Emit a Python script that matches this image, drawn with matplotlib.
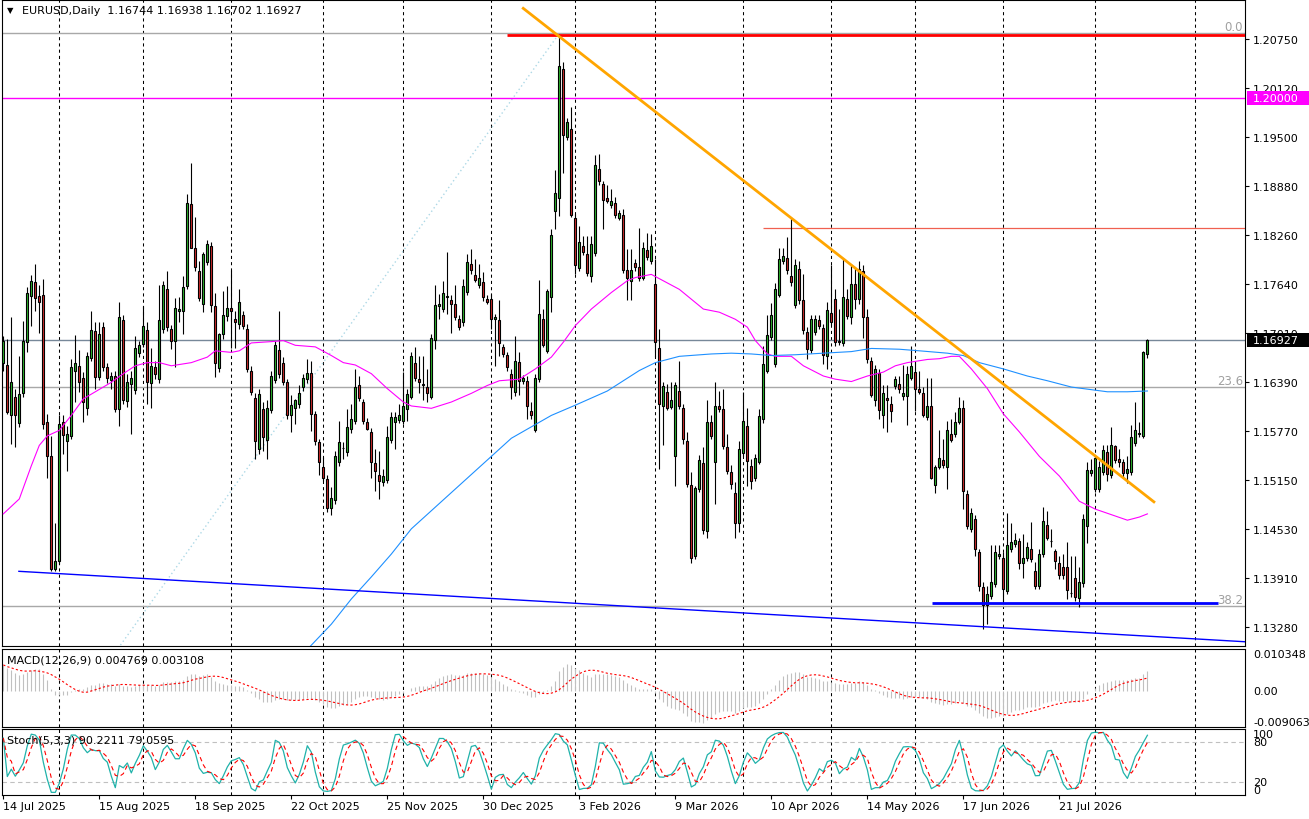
"""EURUSD daily chart in the MT4 style: candles, two moving averages, trend objects, MACD and Stochastic panes."""
import numpy as np
import pandas as pd
import matplotlib
matplotlib.use('Agg')
import matplotlib.pyplot as plt
from matplotlib.patches import Rectangle
from matplotlib.transforms import IdentityTransform

plt.rcParams['font.family'] = 'DejaVu Sans'
plt.rcParams['font.size'] = 8

W, H, DPI = 1309, 820, 100

# ---------------------------------------------------------------- data
FIRST_DAY = '2025-07-14'
HOLIDAYS = ['2025-12-25', '2026-01-01']
HEADER = 'EURUSD,Daily  1.16744 1.16938 1.16702 1.16927'

OPEN = [
    1.1664, 1.1661, 1.1597, 1.1620, 1.1587, 1.1626, 1.1690, 1.1749, 1.1766, 1.1749,
    1.1750, 1.1588, 1.1545, 1.1402, 1.1412, 1.1589, 1.1565, 1.1571, 1.1653, 1.1660,
    1.1644, 1.1607, 1.1670, 1.1704, 1.1646, 1.1709, 1.1658, 1.1642, 1.1647, 1.1605,
    1.1718, 1.1615, 1.1637, 1.1629, 1.1676, 1.1688, 1.1705, 1.1638, 1.1658, 1.1643,
    1.1707, 1.1758, 1.1707, 1.1692, 1.1730, 1.1729, 1.1761, 1.1865, 1.1810, 1.1780,
    1.1739, 1.1792, 1.1812, 1.1736, 1.1657, 1.1700, 1.1723, 1.1733, 1.1720, 1.1713,
    1.1724, 1.1707, 1.1653, 1.1619, 1.1554, 1.1605, 1.1566, 1.1604, 1.1642, 1.1680,
    1.1663, 1.1639, 1.1598, 1.1606, 1.1611, 1.1633, 1.1643, 1.1651, 1.1599, 1.1563,
    1.1532, 1.1516, 1.1479, 1.1489, 1.1538, 1.1555, 1.1550, 1.1580, 1.1590, 1.1635,
    1.1614, 1.1589, 1.1576, 1.1536, 1.1521, 1.1512, 1.1515, 1.1566, 1.1589, 1.1591,
    1.1590, 1.1605, 1.1621, 1.1663, 1.1643, 1.1636, 1.1633, 1.1621, 1.1693, 1.1736,
    1.1732, 1.1747, 1.1744, 1.1739, 1.1720, 1.1715, 1.1754, 1.1789, 1.1775, 1.1763,
    1.1766, 1.1745, 1.1745, 1.1720, 1.1718, 1.1684, 1.1674, 1.1650, 1.1627, 1.1665,
    1.1641, 1.1641, 1.1603, 1.1579, 1.1643, 1.1719, 1.1679, 1.1747, 1.1857, 1.1873,
    1.2037, 1.1951, 1.1961, 1.1848, 1.1784, 1.1812, 1.1802, 1.1774, 1.1803, 1.1910,
    1.1891, 1.1873, 1.1864, 1.1867, 1.1848, 1.1851, 1.1782, 1.1767, 1.1790, 1.1786,
    1.1772, 1.1807, 1.1793, 1.1764, 1.1682, 1.1609, 1.1627, 1.1608, 1.1545, 1.1628,
    1.1606, 1.1564, 1.1509, 1.1418, 1.1504, 1.1536, 1.1450, 1.1588, 1.1538, 1.1609,
    1.1605, 1.1557, 1.1525, 1.1499, 1.1460, 1.1549, 1.1584, 1.1533, 1.1518, 1.1538,
    1.1592, 1.1654, 1.1696, 1.1662, 1.1750, 1.1793, 1.1797, 1.1774, 1.1737, 1.1783,
    1.1744, 1.1703, 1.1680, 1.1703, 1.1718, 1.1708, 1.1673, 1.1727, 1.1745, 1.1692,
    1.1689, 1.1745, 1.1722, 1.1764, 1.1745, 1.1780, 1.1722, 1.1666, 1.1617, 1.1651,
    1.1598, 1.1619, 1.1611, 1.1634, 1.1637, 1.1622, 1.1622, 1.1645, 1.1652, 1.1631,
    1.1625, 1.1595, 1.1609, 1.1509, 1.1532, 1.1540, 1.1532, 1.1573, 1.1573, 1.1589,
    1.1606, 1.1497, 1.1453, 1.1466, 1.1423, 1.1379, 1.1356, 1.1368, 1.1383, 1.1418,
    1.1416, 1.1374, 1.1427, 1.1434, 1.1438, 1.1410, 1.1416, 1.1428, 1.1400, 1.1381,
    1.1421, 1.1458, 1.1438, 1.1425, 1.1410, 1.1405, 1.1405, 1.1372, 1.1390, 1.1365,
    1.1384, 1.1457, 1.1524, 1.1503, 1.1503, 1.1525, 1.1550, 1.1521, 1.1558, 1.1542,
    1.1538, 1.1524, 1.1525, 1.1562, 1.1573, 1.1571, 1.16744,
]
HIGH = [
    1.1698, 1.1694, 1.1722, 1.1631, 1.1673, 1.1717, 1.1760, 1.1775, 1.1789, 1.1762,
    1.1770, 1.1599, 1.1571, 1.1461, 1.1597, 1.1597, 1.1584, 1.1669, 1.1699, 1.1680,
    1.1652, 1.1678, 1.1730, 1.1715, 1.1715, 1.1715, 1.1664, 1.1652, 1.1653, 1.1741,
    1.1725, 1.1650, 1.1654, 1.1698, 1.1691, 1.1736, 1.1715, 1.1682, 1.1666, 1.1763,
    1.1768, 1.1780, 1.1712, 1.1746, 1.1747, 1.1774, 1.1878, 1.1918, 1.1849, 1.1793,
    1.1804, 1.1820, 1.1817, 1.1753, 1.1702, 1.1755, 1.1761, 1.1781, 1.1729, 1.1758,
    1.1730, 1.1713, 1.1660, 1.1626, 1.1631, 1.1614, 1.1616, 1.1653, 1.1692, 1.1729,
    1.1671, 1.1643, 1.1623, 1.1618, 1.1635, 1.1649, 1.1668, 1.1666, 1.1603, 1.1567,
    1.1544, 1.1521, 1.1506, 1.1552, 1.1590, 1.1563, 1.1605, 1.1611, 1.1656, 1.1647,
    1.1618, 1.1594, 1.1581, 1.1554, 1.1552, 1.1529, 1.1584, 1.1601, 1.1601, 1.1611,
    1.1652, 1.1631, 1.1678, 1.1684, 1.1673, 1.1673, 1.1656, 1.1700, 1.1763, 1.1751,
    1.1768, 1.1805, 1.1750, 1.1762, 1.1724, 1.1770, 1.1802, 1.1808, 1.1796, 1.1789,
    1.1779, 1.1750, 1.1751, 1.1726, 1.1743, 1.1688, 1.1678, 1.1656, 1.1698, 1.1677,
    1.1648, 1.1647, 1.1614, 1.1650, 1.1769, 1.1732, 1.1758, 1.1834, 1.1908, 1.2081,
    1.2045, 1.1975, 1.1988, 1.1853, 1.1838, 1.1825, 1.1825, 1.1825, 1.1927, 1.1929,
    1.1895, 1.1889, 1.1884, 1.1874, 1.1858, 1.1859, 1.1808, 1.1808, 1.1796, 1.1835,
    1.1817, 1.1829, 1.1827, 1.1796, 1.1707, 1.1639, 1.1637, 1.1639, 1.1639, 1.1666,
    1.1611, 1.1576, 1.1525, 1.1508, 1.1547, 1.1557, 1.1616, 1.1597, 1.1639, 1.1628,
    1.1631, 1.1573, 1.1534, 1.1512, 1.1564, 1.1627, 1.1607, 1.1542, 1.1548, 1.1605,
    1.1685, 1.1724, 1.1740, 1.1765, 1.1810, 1.1809, 1.1823, 1.1849, 1.1796, 1.1793,
    1.1777, 1.1709, 1.1724, 1.1724, 1.1724, 1.1713, 1.1741, 1.1788, 1.1758, 1.1732,
    1.1797, 1.1758, 1.1789, 1.1785, 1.1793, 1.1788, 1.1732, 1.1671, 1.1661, 1.1656,
    1.1635, 1.1635, 1.1622, 1.1647, 1.1647, 1.1661, 1.1660, 1.1685, 1.1666, 1.1654,
    1.1633, 1.1644, 1.1644, 1.1534, 1.1579, 1.1567, 1.1590, 1.1592, 1.1601, 1.1621,
    1.1617, 1.1502, 1.1480, 1.1470, 1.1427, 1.1385, 1.1381, 1.1432, 1.1432, 1.1432,
    1.1423, 1.1473, 1.1461, 1.1448, 1.1442, 1.1447, 1.1436, 1.1462, 1.1411, 1.1427,
    1.1481, 1.1476, 1.1453, 1.1427, 1.1418, 1.1421, 1.1436, 1.1418, 1.1419, 1.1405,
    1.1472, 1.1538, 1.1542, 1.1546, 1.1539, 1.1560, 1.1559, 1.1582, 1.1560, 1.1554,
    1.1542, 1.1546, 1.1585, 1.1614, 1.1589, 1.1679, 1.16938,
]
LOW = [
    1.1654, 1.1599, 1.1561, 1.1557, 1.1582, 1.1620, 1.1677, 1.1711, 1.1730, 1.1702,
    1.1580, 1.1518, 1.1400, 1.1400, 1.1408, 1.1548, 1.1527, 1.1567, 1.1614, 1.1627,
    1.1589, 1.1598, 1.1666, 1.1631, 1.1642, 1.1653, 1.1638, 1.1631, 1.1601, 1.1583,
    1.1611, 1.1608, 1.1573, 1.1624, 1.1671, 1.1684, 1.1611, 1.1607, 1.1643, 1.1638,
    1.1702, 1.1704, 1.1681, 1.1658, 1.1715, 1.1700, 1.1757, 1.1859, 1.1780, 1.1742,
    1.1728, 1.1788, 1.1728, 1.1646, 1.1652, 1.1694, 1.1717, 1.1683, 1.1683, 1.1707,
    1.1707, 1.1652, 1.1623, 1.1542, 1.1548, 1.1552, 1.1542, 1.1600, 1.1638, 1.1645,
    1.1636, 1.1592, 1.1576, 1.1586, 1.1607, 1.1628, 1.1638, 1.1577, 1.1560, 1.1521,
    1.1514, 1.1474, 1.1470, 1.1485, 1.1533, 1.1542, 1.1546, 1.1575, 1.1586, 1.1615,
    1.1586, 1.1578, 1.1518, 1.1501, 1.1491, 1.1507, 1.1511, 1.1562, 1.1554, 1.1587,
    1.1586, 1.1590, 1.1618, 1.1641, 1.1626, 1.1616, 1.1614, 1.1618, 1.1681, 1.1719,
    1.1728, 1.1726, 1.1702, 1.1718, 1.1705, 1.1711, 1.1750, 1.1777, 1.1766, 1.1759,
    1.1742, 1.1738, 1.1707, 1.1660, 1.1673, 1.1671, 1.1653, 1.1618, 1.1622, 1.1623,
    1.1637, 1.1592, 1.1592, 1.1576, 1.1639, 1.1684, 1.1676, 1.1728, 1.1834, 1.1850,
    1.1905, 1.1947, 1.1849, 1.1777, 1.1780, 1.1801, 1.1774, 1.1766, 1.1799, 1.1890,
    1.1833, 1.1866, 1.1860, 1.1848, 1.1845, 1.1778, 1.1743, 1.1743, 1.1780, 1.1768,
    1.1769, 1.1794, 1.1789, 1.1671, 1.1529, 1.1559, 1.1604, 1.1605, 1.1507, 1.1605,
    1.1561, 1.1506, 1.1410, 1.1415, 1.1500, 1.1446, 1.1442, 1.1567, 1.1485, 1.1601,
    1.1554, 1.1523, 1.1504, 1.1442, 1.1449, 1.1545, 1.1508, 1.1504, 1.1514, 1.1535,
    1.1587, 1.1651, 1.1693, 1.1659, 1.1747, 1.1789, 1.1777, 1.1761, 1.1733, 1.1738,
    1.1700, 1.1669, 1.1676, 1.1699, 1.1707, 1.1662, 1.1656, 1.1712, 1.1685, 1.1686,
    1.1685, 1.1719, 1.1713, 1.1732, 1.1738, 1.1695, 1.1664, 1.1620, 1.1609, 1.1592,
    1.1581, 1.1576, 1.1588, 1.1631, 1.1626, 1.1616, 1.1585, 1.1642, 1.1602, 1.1624,
    1.1595, 1.1591, 1.1516, 1.1499, 1.1529, 1.1530, 1.1504, 1.1563, 1.1570, 1.1586,
    1.1478, 1.1453, 1.1449, 1.1419, 1.1374, 1.1326, 1.1332, 1.1364, 1.1379, 1.1415,
    1.1360, 1.1370, 1.1424, 1.1430, 1.1402, 1.1391, 1.1412, 1.1411, 1.1377, 1.1377,
    1.1417, 1.1439, 1.1430, 1.1402, 1.1389, 1.1389, 1.1364, 1.1367, 1.1361, 1.1354,
    1.1379, 1.1435, 1.1520, 1.1500, 1.1500, 1.1521, 1.1514, 1.1517, 1.1536, 1.1531,
    1.1519, 1.1511, 1.1521, 1.1558, 1.1569, 1.1568, 1.16702,
]
CLOSE = [
    1.1692, 1.1601, 1.1640, 1.1597, 1.1624, 1.1691, 1.1753, 1.1767, 1.1746, 1.1741,
    1.1586, 1.1545, 1.1402, 1.1412, 1.1586, 1.1572, 1.1573, 1.1659, 1.1663, 1.1640,
    1.1614, 1.1672, 1.1705, 1.1646, 1.1700, 1.1659, 1.1644, 1.1647, 1.1605, 1.1722,
    1.1617, 1.1640, 1.1644, 1.1682, 1.1686, 1.1711, 1.1640, 1.1660, 1.1649, 1.1718,
    1.1762, 1.1709, 1.1692, 1.1733, 1.1732, 1.1760, 1.1866, 1.1810, 1.1785, 1.1746,
    1.1802, 1.1814, 1.1737, 1.1664, 1.1700, 1.1725, 1.1733, 1.1729, 1.1716, 1.1741,
    1.1711, 1.1656, 1.1627, 1.1564, 1.1624, 1.1569, 1.1607, 1.1647, 1.1686, 1.1650,
    1.1640, 1.1598, 1.1610, 1.1617, 1.1626, 1.1645, 1.1651, 1.1599, 1.1564, 1.1538,
    1.1518, 1.1480, 1.1492, 1.1546, 1.1563, 1.1556, 1.1582, 1.1592, 1.1633, 1.1619,
    1.1590, 1.1580, 1.1538, 1.1527, 1.1514, 1.1520, 1.1569, 1.1595, 1.1595, 1.1597,
    1.1609, 1.1624, 1.1672, 1.1644, 1.1640, 1.1637, 1.1626, 1.1695, 1.1737, 1.1739,
    1.1753, 1.1749, 1.1739, 1.1722, 1.1709, 1.1761, 1.1792, 1.1781, 1.1769, 1.1771,
    1.1747, 1.1741, 1.1719, 1.1722, 1.1689, 1.1675, 1.1658, 1.1633, 1.1666, 1.1641,
    1.1644, 1.1609, 1.1597, 1.1645, 1.1726, 1.1687, 1.1755, 1.1826, 1.1879, 1.2040,
    1.1953, 1.1970, 1.1851, 1.1788, 1.1817, 1.1804, 1.1778, 1.1814, 1.1915, 1.1894,
    1.1871, 1.1869, 1.1869, 1.1852, 1.1854, 1.1782, 1.1772, 1.1781, 1.1785, 1.1771,
    1.1809, 1.1798, 1.1812, 1.1690, 1.1611, 1.1634, 1.1607, 1.1617, 1.1635, 1.1609,
    1.1567, 1.1510, 1.1416, 1.1505, 1.1540, 1.1451, 1.1588, 1.1571, 1.1609, 1.1605,
    1.1558, 1.1527, 1.1510, 1.1461, 1.1554, 1.1590, 1.1539, 1.1514, 1.1543, 1.1596,
    1.1662, 1.1699, 1.1724, 1.1758, 1.1796, 1.1799, 1.1781, 1.1766, 1.1788, 1.1743,
    1.1705, 1.1681, 1.1720, 1.1719, 1.1711, 1.1674, 1.1731, 1.1716, 1.1690, 1.1690,
    1.1747, 1.1723, 1.1764, 1.1745, 1.1783, 1.1722, 1.1668, 1.1623, 1.1656, 1.1604,
    1.1626, 1.1616, 1.1602, 1.1643, 1.1631, 1.1626, 1.1650, 1.1660, 1.1631, 1.1627,
    1.1598, 1.1609, 1.1518, 1.1531, 1.1543, 1.1534, 1.1578, 1.1566, 1.1588, 1.1607,
    1.1501, 1.1456, 1.1473, 1.1427, 1.1380, 1.1356, 1.1370, 1.1385, 1.1423, 1.1421,
    1.1377, 1.1432, 1.1436, 1.1439, 1.1410, 1.1416, 1.1430, 1.1415, 1.1380, 1.1421,
    1.1463, 1.1442, 1.1437, 1.1412, 1.1395, 1.1394, 1.1376, 1.1371, 1.1366, 1.1385,
    1.1466, 1.1528, 1.1528, 1.1543, 1.1531, 1.1553, 1.1522, 1.1559, 1.1540, 1.1538,
    1.1524, 1.1529, 1.1570, 1.1579, 1.1575, 1.1677, 1.16927,
]

# moving averages (bar index, price)
MA_FAST_IDX = [0, 4, 7, 9, 11, 14, 17, 20, 23, 27, 30, 33, 36, 39, 42, 47, 51, 53, 57, 59,
               62, 68, 70, 73, 78, 82, 85, 88, 92, 96, 100, 102, 107, 112, 117, 121, 124, 129, 133, 137,
               140, 143, 147, 152, 156, 158, 162, 169, 175, 179, 183, 186, 188, 191, 193, 197, 200, 205, 208, 212,
               216, 220, 223, 226, 231, 234, 237, 239, 242, 246, 250, 254, 259, 264, 269, 273, 277, 281, 284, 286]
MA_FAST = [1.1472, 1.1491, 1.1533, 1.1559, 1.1571, 1.1578, 1.1597, 1.1618, 1.1627, 1.1639,
           1.1650, 1.1660, 1.1664, 1.1664, 1.1660, 1.1664, 1.1671, 1.1679, 1.1677, 1.1679,
           1.1689, 1.1691, 1.1692, 1.1686, 1.1684, 1.1673, 1.1664, 1.1661, 1.1650, 1.1631,
           1.1614, 1.1609, 1.1606, 1.1614, 1.1625, 1.1635, 1.1641, 1.1643, 1.1656, 1.1671,
           1.1690, 1.1711, 1.1732, 1.1753, 1.1768, 1.1772, 1.1776, 1.1757, 1.1732, 1.1728,
           1.1719, 1.1709, 1.1692, 1.1675, 1.1672, 1.1672, 1.1660, 1.1647, 1.1643, 1.1640,
           1.1647, 1.1652, 1.1660, 1.1664, 1.1668, 1.1669, 1.1672, 1.1672, 1.1656, 1.1631,
           1.1599, 1.1576, 1.1545, 1.1520, 1.1488, 1.1478, 1.1471, 1.1464, 1.1468, 1.1472]
MA_SLOW_IDX = [76, 82, 87, 92, 97, 102, 107, 127, 137, 143, 151, 159, 163, 169, 177, 182, 187, 192,
               198, 205, 212, 217, 224, 229, 236, 240, 244, 250, 256, 261, 267, 276, 281, 286]
MA_SLOW = [1.1300, 1.1332, 1.1364, 1.1392, 1.1421, 1.1453, 1.1476, 1.1568, 1.1597, 1.1610,
           1.1628, 1.1654, 1.1664, 1.1672, 1.1675, 1.1676, 1.1675, 1.1673, 1.1674, 1.1676,
           1.1678, 1.1682, 1.1681, 1.1679, 1.1676, 1.1673, 1.1664, 1.1656, 1.1647, 1.1641,
           1.1633, 1.1627, 1.1627, 1.1628]

MAIN_TICKS = [1.2075, 1.2012, 1.1950, 1.1888, 1.1826, 1.1764, 1.1701, 1.1639,
              1.1577, 1.1515, 1.1453, 1.1391, 1.1328]
MAIN_LIMITS = (1.13043, 1.21243)

# chart objects
FIB_LOW, FIB_HIGH = 1.0178, 1.2082
FIB_LOW_IDX, FIB_HIGH_IDX = -130, 139
FIB_LEVELS = [0.0, 23.6, 38.2]
DOWN_TREND = [(129.7, 1.21148), (287.9, 1.14862)]
LOW_TREND = [(3.9, 1.13991), (310.4, 1.13097)]
SUPPORT = (232.1, 303.6, 1.13592)
TOP_LINE = (125.9, 1.20793)
MID_LINE = (189.9, 1.18345)
ROUND_LEVEL = 1.2000

MACD_SEED = (1.1645, 1.1580)      # fast / slow EMA just before the first bar
MACD_LIMITS = (-0.009063, 0.010348)
MACD_TEXT = 'MACD(12,26,9) 0.004769 0.003108'
STOCH_TEXT = 'Stoch(5,3,3) 90.2211 79.0595'

UP_COL, DOWN_COL = '#2DB82D', '#D22B2B'

# ---------------------------------------------------------------- derived
o, h, l, c = (np.array(v) for v in (OPEN, HIGH, LOW, CLOSE))
n = len(c)
x = np.arange(n)
dates = pd.bdate_range(FIRST_DAY, periods=n, freq='C', holidays=HOLIDAYS)
future = pd.date_range(dates[-1] + pd.Timedelta(days=1), periods=40, freq='D')
all_dates = dates.append(future)
month_lines = [i for i in range(1, len(all_dates)) if all_dates[i].month != all_dates[i - 1].month]
lbl_idx = list(range(0, n, 24))
lbl_txt = [f'{dates[i].day} {dates[i]:%b %Y}' for i in lbl_idx]

fast, slow = MACD_SEED
macd = []
for v in c:
    fast += (v - fast) * 2 / 13
    slow += (v - slow) * 2 / 27
    macd.append(fast - slow)
macd = pd.Series(macd)
macd_sig = macd.rolling(9, min_periods=1).mean()

hs, ls, cs = pd.Series(h), pd.Series(l), pd.Series(c)
ll = ls.rolling(5, min_periods=1).min()
hh = hs.rolling(5, min_periods=1).max()
st_main = 100 * (cs - ll).rolling(3, min_periods=1).sum() / (hh - ll).rolling(3, min_periods=1).sum()
st_sig = st_main.rolling(3, min_periods=1).mean()

# ---------------------------------------------------------------- layout
fig = plt.figure(figsize=(W / DPI, H / DPI), dpi=DPI)
fig.patch.set_facecolor('white')


def box(top, bottom, left=2, right=1245):
    return [left / W, 1 - bottom / H, (right - left) / W, (bottom - top) / H]


ax = fig.add_axes(box(1, 647))
axm = fig.add_axes(box(650, 728))
axs = fig.add_axes(box(730, 796))
XLIM = (-0.325, 310.4)
for a in (ax, axm, axs):
    a.set_xlim(*XLIM)
    for sp in a.spines.values():
        sp.set_linewidth(0.8)
        sp.set_color('black')
    a.tick_params(axis='x', bottom=False, labelbottom=False)
    a.tick_params(axis='y', left=False, labelleft=False)
    for m in month_lines:
        a.axvline(m, color='black', lw=0.75, ls=(0, (3, 3)), zorder=1)

# ---------------------------------------------------------------- main pane
ax.set_ylim(*MAIN_LIMITS)
ax.yaxis.set_ticks_position('right')
ax.set_yticks(MAIN_TICKS, labels=[f'{v:.5f}' for v in MAIN_TICKS])
ax.tick_params(axis='y', right=True, labelright=True, direction='out', length=3, width=0.8, pad=2.8, labelsize=8)

fib_range = FIB_HIGH - FIB_LOW
for lev in FIB_LEVELS:
    p = FIB_HIGH - fib_range * lev / 100
    ax.axhline(p, color='#A8A8A8', lw=1, zorder=2)
    ax.text(0.9984, p, f'{lev:.1f}', transform=ax.get_yaxis_transform(), ha='right', va='bottom',
            color='#A0A0A0', fontsize=8.5, zorder=6)
ax.plot([FIB_LOW_IDX, FIB_HIGH_IDX], [FIB_LOW, FIB_HIGH], color='#ADD8E6', lw=1, ls=(0, (1, 2)), zorder=2)

ax.axhline(ROUND_LEVEL, color='#FF00FF', lw=1, zorder=2)
ax.axhline(c[-1], color='#778899', lw=1, zorder=2)
ax.hlines(TOP_LINE[1], TOP_LINE[0], XLIM[1], color='#FF0000', lw=2, zorder=6)
ax.hlines(MID_LINE[1], MID_LINE[0], XLIM[1], color='#F06050', lw=0.9, zorder=2)

up = c >= o
ax.vlines(x, l, h, color='black', lw=0.8, zorder=3)
ax.bar(x, np.abs(c - o), bottom=np.minimum(o, c), width=0.55,
       color=np.where(up, UP_COL, DOWN_COL), edgecolor='black', linewidth=0.8, zorder=4)

ax.plot(MA_FAST_IDX, MA_FAST, color='#FF00FF', lw=0.8, zorder=5)
ax.plot(MA_SLOW_IDX, MA_SLOW, color='#1E90FF', lw=0.8, zorder=5)

ax.plot(*zip(*DOWN_TREND), color='#FFA500', lw=2, zorder=6, solid_capstyle='butt')
ax.plot(*zip(*LOW_TREND), color='#0000FF', lw=1, zorder=6)
ax.hlines(SUPPORT[2], SUPPORT[0], SUPPORT[1], color='#0000FF', lw=2, zorder=6)

# ---------------------------------------------------------------- MACD pane
axm.set_ylim(*MACD_LIMITS)
axm.vlines(x, 0, macd, color='#C0C0C0', lw=0.8, zorder=2)
axm.plot(x, macd_sig, color='#FF0000', lw=0.8, ls=(0, (2, 2)), zorder=3)

# ---------------------------------------------------------------- Stochastic pane
axs.set_ylim(0, 100)
for lev in (20, 80):
    axs.axhline(lev, color='#C0C0C0', lw=0.8, ls=(0, (4, 3)), zorder=1)
axs.plot(x, st_main, color='#20B2AA', lw=0.9, zorder=3)
axs.plot(x, st_sig, color='#FF0000', lw=0.8, ls=(0, (4, 3)), zorder=3)
axs.set_xticks(lbl_idx, labels=lbl_txt)
axs.tick_params(axis='x', bottom=True, labelbottom=True, direction='out', length=3, width=0.8, pad=1.5, labelsize=8)
for t in axs.get_xticklabels():
    t.set_ha('left')


def side_label(a, y, s, va):
    a.annotate(s, xy=(1, y), xycoords=('axes fraction', 'data'), xytext=(5.8, 0),
               textcoords='offset points', ha='left', va=va, fontsize=8)


side_label(axm, MACD_LIMITS[1], f'{MACD_LIMITS[1]:.6f}', 'top')
side_label(axm, 0, '0.00', 'center')
side_label(axm, MACD_LIMITS[0], f'{MACD_LIMITS[0]:.6f}', 'bottom')
side_label(axs, 100, '100', 'top')
side_label(axs, 80, '80', 'center')
side_label(axs, 20, '20', 'center')
side_label(axs, 0, '0', 'bottom')

# ---------------------------------------------------------------- texts and price boxes
fig.text(7 / W, 1 - 10.5 / H, '▼', fontsize=6, va='center', ha='left')
fig.text(22 / W, 1 - 11.5 / H, HEADER, fontsize=8, va='center', ha='left')
fig.text(7 / W, 1 - 660.5 / H, MACD_TEXT, fontsize=8, va='center', ha='left')
fig.text(7 / W, 1 - 740.5 / H, STOCH_TEXT, fontsize=8, va='center', ha='left')

for price, col in ((ROUND_LEVEL, '#FF00FF'), (c[-1], 'black')):
    yd = ax.transData.transform((0, price))[1]
    fig.add_artist(Rectangle((1247, yd - 6.8), 62, 13.6, transform=IdentityTransform(),
                             facecolor=col, edgecolor='none', zorder=5))
    fig.text(1253, yd, f'{price:.5f}', transform=IdentityTransform(), color='white',
             fontsize=8, va='center', ha='left', zorder=6)

fig.savefig('out.png', dpi=DPI)
